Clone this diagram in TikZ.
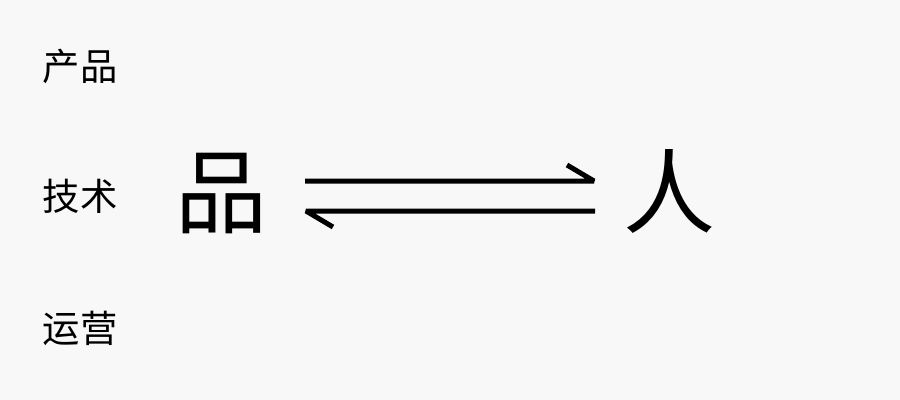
\documentclass[tikz,border=0pt]{standalone}
\usepackage{fontspec}
\setmainfont{Noto Sans CJK SC}
\definecolor{paper}{RGB}{248,248,248}
\tikzset{
  small label/.style={font=\fontsize{28}{30}\selectfont, inner sep=0pt},
  big label/.style={font=\fontsize{69}{72}\selectfont, inner sep=0pt},
  harpoon/.style={line width=3.75pt, line join=bevel},
}

\begin{document}
\begin{tikzpicture}[x=0.75pt,y=0.75pt,yscale=-1,xscale=1]
%set diagram left start at 0, and has height of 400
\fill[paper] (0,0) rectangle (900,400);
\useasboundingbox (0,0) rectangle (900,400);

% Text Node
\node[small label] (chanpin) at (80,66) {产品};
% Text Node
\node[small label] (jishu) at (80,196) {技术};
% Text Node
\node[small label] (yunying) at (80,328) {运营};

% Text Node
\node[big label] (pin) at (221,194) {品};
% Text Node
\node[big label] (ren) at (669,191) {人};

%Harpoons
\coordinate (top-start) at (305,181);
\coordinate (top-end) at (594,181);
\coordinate (bottom-start) at (595,211);
\coordinate (bottom-end) at (306,211);
\draw[harpoon] (top-start) -- (top-end) -- ++(-27,-16);
\draw[harpoon] (bottom-start) -- (bottom-end) -- ++(27,16);

\end{tikzpicture}
\end{document}
